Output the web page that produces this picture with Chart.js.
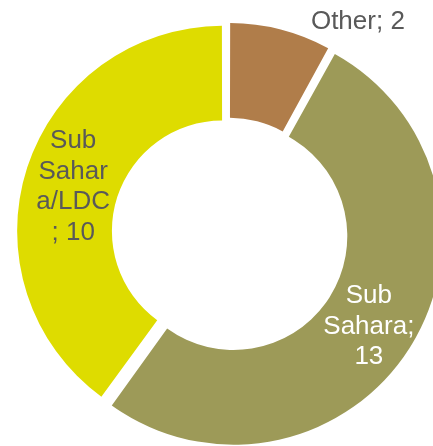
<!DOCTYPE html>
<html><head><meta charset="utf-8">
<script src="https://cdn.jsdelivr.net/npm/chart.js@4/dist/chart.umd.min.js"></script>
<style>html,body{margin:0;padding:0;background:#fff;overflow:hidden}#wrap{width:433px;height:446px;position:relative}</style>
</head><body><div id="wrap"><canvas id="c"></canvas></div>
<script>
// ---- data ----
const categories = ['Other', 'Sub Sahara', 'Sub Sahara/LDC'];
const values = [2, 13, 10];
// ---- styles ----
const sliceColors = ['#B07D4A', '#9D9A58', '#DEDC00'];
const labelColors = ['#595959', '#FFFFFF', '#595959'];
const labelWrapWidth = [400, 105, 78];
const explode = [20, 24, 26]; // Chart.js arc offset per slice (drawn shift = offset/4)
const FONT_SIZE = 26;
const FONT = FONT_SIZE + 'px "Liberation Sans", Arial, sans-serif';
const LINE_H = 30.5;

function wrapText(ctx, text, maxW) {
  const words = text.split(' ');
  const lines = [];
  let cur = '';
  const push = () => { if (cur !== '') lines.push(cur); cur = ''; };
  for (const w of words) {
    const trial = cur === '' ? w : cur + ' ' + w;
    if (ctx.measureText(trial).width <= maxW) { cur = trial; continue; }
    push();
    if (ctx.measureText(w).width <= maxW) { cur = w; continue; }
    let piece = '';
    for (const ch of w) {
      if (ctx.measureText(piece + ch).width > maxW && piece !== '') { lines.push(piece); piece = ch; }
      else piece += ch;
    }
    cur = piece;
  }
  push();
  return lines;
}

const labelPlugin = {
  id: 'sliceLabels',
  afterDatasetsDraw(chart) {
    const ctx = chart.ctx;
    const meta = chart.getDatasetMeta(0);
    ctx.save();
    ctx.font = FONT;
    ctx.textAlign = 'center';
    ctx.textBaseline = 'alphabetic';
    meta.data.forEach((arc, i) => {
      const p = arc.getProps(['x', 'y', 'startAngle', 'endAngle', 'innerRadius', 'outerRadius', 'circumference']);
      const mid = (p.startAngle + p.endAngle) / 2;
      const shift = explode[i] / 4;
      const fix = 1 - Math.sin(Math.min(Math.PI, p.circumference));
      let r, ang = mid;
      if (i === 0) {
        ang = mid + 0.29;
        r = p.outerRadius * 1.24;
      } else {
        r = (p.innerRadius + p.outerRadius) / 2 + shift * fix + shift * 0.85;
      }
      const cx = p.x + Math.cos(ang) * r;
      const cy = p.y + Math.sin(ang) * r;
      const text = categories[i] + '; ' + values[i];
      const lines = wrapText(ctx, text, labelWrapWidth[i]);
      ctx.fillStyle = labelColors[i];
      const n = lines.length;
      lines.forEach((ln, k) => {
        const y = cy + (k - (n - 1) / 2) * LINE_H + FONT_SIZE * 0.44;
        ctx.fillText(ln, cx, y);
      });
    });
    ctx.restore();
  }
};

new Chart(document.getElementById('c'), {
  type: 'doughnut',
  data: {
    labels: categories,
    datasets: [{
      data: values,
      backgroundColor: sliceColors,
      borderWidth: 0,
      offset: explode,
      radius: 202.5,
      hoverOffset: 0
    }]
  },
  options: {
    responsive: true,
    maintainAspectRatio: false,
    animation: false,
    cutout: '53.2%',
    rotation: 0,
    layout: { padding: { left: 24, top: 20, right: 0, bottom: 0 } },
    plugins: { legend: { display: false }, tooltip: { enabled: false }, title: { display: false } },
    events: []
  },
  plugins: [labelPlugin]
});
</script>
</body></html>
